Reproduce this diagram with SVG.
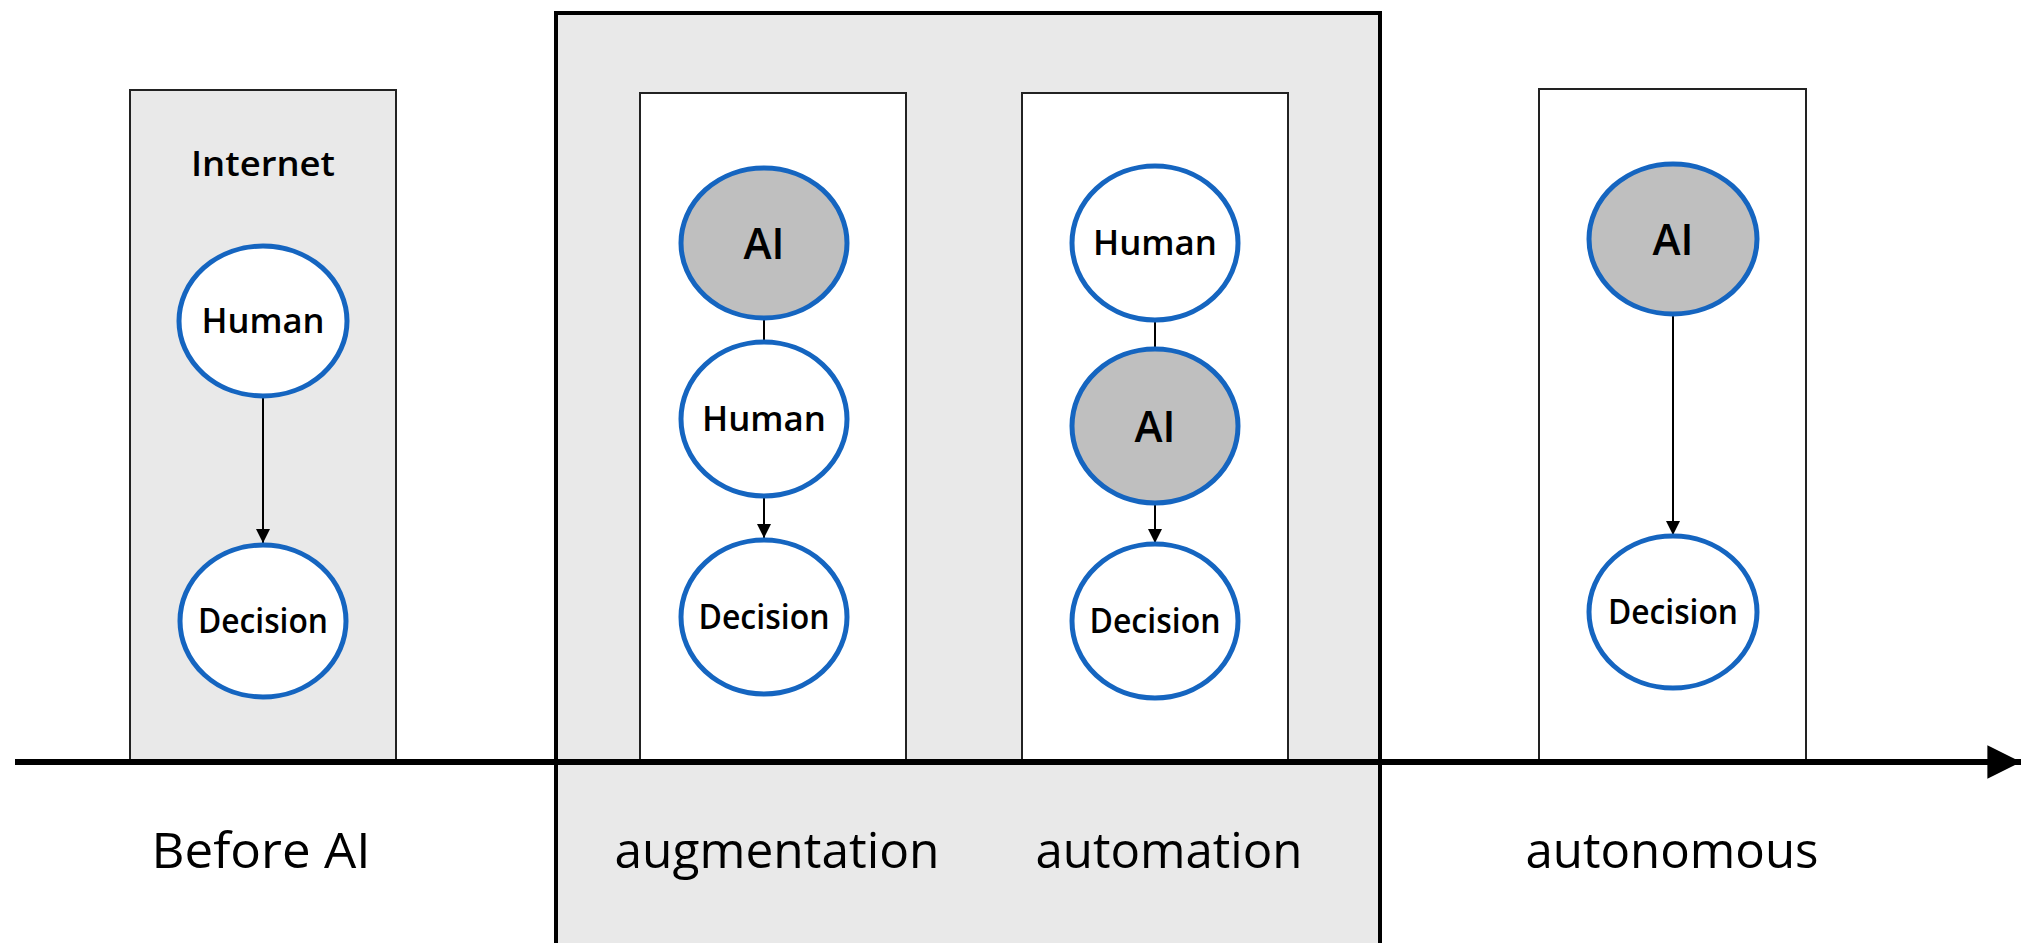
<svg xmlns="http://www.w3.org/2000/svg" width="2023" height="943" viewBox="0 0 2023 943">
<defs>
<style>
.panel{fill:#e9e9e9;stroke:#222;stroke-width:2}
.inner{fill:#fff;stroke:#222;stroke-width:2}
.group{fill:#e9e9e9;stroke:#000;stroke-width:4}
.node{fill:#fff;stroke:#1565c0;stroke-width:5}
.ai{fill:#bfbfbf;stroke:#1565c0;stroke-width:5}
.lbl{font-family:"Open Sans","Noto Sans",sans-serif;font-size:34px;font-weight:600;fill:#000;text-anchor:middle}
.ailbl{font-family:"Open Sans","Noto Sans",sans-serif;font-size:44px;font-weight:600;fill:#000;text-anchor:middle}
.era{font-family:"Open Sans","Noto Sans",sans-serif;font-size:49px;fill:#000;text-anchor:middle}
.conn{stroke:#000;stroke-width:2;fill:none}
</style>
<marker id="arr" viewBox="0 0 10 10" refX="10" refY="5" markerWidth="7" markerHeight="7" markerUnits="strokeWidth" orient="auto">
<path d="M0,0 L10,5 L0,10 z" fill="#000"/>
</marker>
<marker id="bigarr" viewBox="0 0 10 10" refX="10" refY="5" markerWidth="5.6" markerHeight="5.6" markerUnits="strokeWidth" orient="auto">
<path d="M0,0 L10,5 L0,10 z" fill="#000"/>
</marker>
</defs>
<rect width="2023" height="943" fill="#fff"/>

<g id="era-group">
<rect class="group" x="556" y="13" width="824" height="940"/>
</g>

<g id="panel-before">
<rect class="panel" x="130" y="90" width="266" height="672"/>
<text class="lbl" x="263" y="176" textLength="144" lengthAdjust="spacingAndGlyphs">Internet</text>
</g>
<g id="panel-augmentation">
<rect class="inner" x="640" y="93" width="266" height="669"/>
</g>
<g id="panel-automation">
<rect class="inner" x="1022" y="93" width="266" height="669"/>
</g>
<g id="panel-autonomous">
<rect class="inner" x="1539" y="89" width="267" height="673"/>
</g>

<g id="connectors">
<line class="conn" x1="263" y1="396" x2="263" y2="543" marker-end="url(#arr)"/>
<line class="conn" x1="764" y1="318" x2="764" y2="342"/>
<line class="conn" x1="764" y1="496" x2="764" y2="538" marker-end="url(#arr)"/>
<line class="conn" x1="1155" y1="320" x2="1155" y2="348"/>
<line class="conn" x1="1155" y1="503" x2="1155" y2="543" marker-end="url(#arr)"/>
<line class="conn" x1="1673" y1="314" x2="1673" y2="535" marker-end="url(#arr)"/>
<line x1="15" y1="762" x2="2021" y2="762" stroke="#000" stroke-width="6" marker-end="url(#bigarr)"/>
</g>

<g id="n-before-human"><ellipse class="node" cx="263" cy="321" rx="84" ry="75"/><text class="lbl" x="263" y="333" textLength="123" lengthAdjust="spacingAndGlyphs">Human</text></g>
<g id="n-before-decision"><ellipse class="node" cx="263" cy="621" rx="83" ry="76"/><text class="lbl" x="263" y="633" textLength="130" lengthAdjust="spacingAndGlyphs">Decision</text></g>

<g id="n-aug-ai"><ellipse class="ai" cx="764" cy="243" rx="83" ry="75"/><text class="ailbl" x="764" y="259" textLength="41" lengthAdjust="spacingAndGlyphs">AI</text></g>
<g id="n-aug-human"><ellipse class="node" cx="764" cy="419" rx="83" ry="77"/><text class="lbl" x="764" y="431" textLength="124" lengthAdjust="spacingAndGlyphs">Human</text></g>
<g id="n-aug-decision"><ellipse class="node" cx="764" cy="617" rx="83" ry="77"/><text class="lbl" x="764" y="629" textLength="131" lengthAdjust="spacingAndGlyphs">Decision</text></g>

<g id="n-auto-human"><ellipse class="node" cx="1155" cy="243" rx="83" ry="77"/><text class="lbl" x="1155" y="255" textLength="124" lengthAdjust="spacingAndGlyphs">Human</text></g>
<g id="n-auto-ai"><ellipse class="ai" cx="1155" cy="426" rx="83" ry="77"/><text class="ailbl" x="1155" y="442" textLength="41" lengthAdjust="spacingAndGlyphs">AI</text></g>
<g id="n-auto-decision"><ellipse class="node" cx="1155" cy="621" rx="83" ry="77"/><text class="lbl" x="1155" y="633" textLength="131" lengthAdjust="spacingAndGlyphs">Decision</text></g>

<g id="n-autonomous-ai"><ellipse class="ai" cx="1673" cy="239" rx="84" ry="75"/><text class="ailbl" x="1673" y="255" textLength="41" lengthAdjust="spacingAndGlyphs">AI</text></g>
<g id="n-autonomous-decision"><ellipse class="node" cx="1673" cy="612" rx="84" ry="76"/><text class="lbl" x="1673" y="624" textLength="130" lengthAdjust="spacingAndGlyphs">Decision</text></g>

<g id="labels">
<text class="era" x="261" y="868" textLength="219" lengthAdjust="spacingAndGlyphs">Before AI</text>
<text class="era" x="777" y="868" textLength="325" lengthAdjust="spacingAndGlyphs">augmentation</text>
<text class="era" x="1169" y="868" textLength="267" lengthAdjust="spacingAndGlyphs">automation</text>
<text class="era" x="1672" y="868" textLength="293" lengthAdjust="spacingAndGlyphs">autonomous</text>
</g>
</svg>
